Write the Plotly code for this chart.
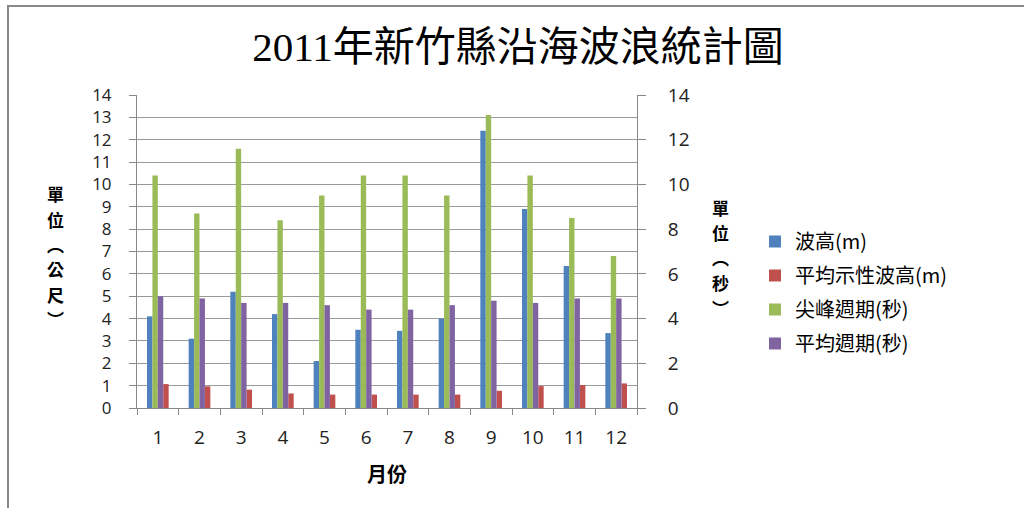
import plotly.graph_objects as go

months = ["1", "2", "3", "4", "5", "6", "7", "8", "9", "10", "11", "12"]
wave_height = [4.1, 3.1, 5.2, 4.2, 2.1, 3.5, 3.45, 4.0, 12.4, 8.9, 6.35, 3.35]
avg_sig_height = [1.07, 0.97, 0.82, 0.65, 0.6, 0.6, 0.6, 0.6, 0.77, 0.98, 1.03, 1.1]
peak_period = [10.4, 8.7, 11.6, 8.4, 9.5, 10.4, 10.4, 9.5, 13.1, 10.4, 8.5, 6.8]
avg_period = [5.0, 4.9, 4.7, 4.7, 4.6, 4.4, 4.4, 4.6, 4.8, 4.7, 4.9, 4.9]

names = ["波高(m)", "平均示性波高(m)", "尖峰週期(秒)", "平均週期(秒)"]
colors = ["#4F81BD", "#C0504D", "#9BBB59", "#8064A2"]

left_title_chars = ["單", "位", "︵", "公", "尺", "︶"]
right_title_chars = ["單", "位", "︵", "秒", "︶"]

W = 0.13
CJK = "Noto Sans CJK TC, Noto Sans CJK SC, sans-serif"
NUM = "Open Sans, Liberation Sans, sans-serif"

fig = go.Figure()
series = [
    (wave_height, "y", -2 * W),
    (avg_sig_height, "y", 1 * W),
    (peak_period, "y2", -1 * W),
    (avg_period, "y2", 0),
]
for i, ((vals, ax, off), name, col) in enumerate(zip(series, names, colors)):
    fig.add_trace(go.Bar(
        x=months, y=vals, name=name, yaxis=ax,
        legendgroup="g%d" % i,
        marker=dict(color=col, line=dict(width=0)),
        width=W, offset=off,
    ))


def px_to_paper_x(px):
    return (px - 137) / 500


def px_to_paper_y(py):
    return (408 - py) / 313


annotations = []
for ch, py in zip(left_title_chars, [193, 219, 244, 268, 294, 318]):
    annotations.append(dict(
        text="<b>%s</b>" % ch, xref="paper", yref="paper",
        x=px_to_paper_x(55), y=px_to_paper_y(py),
        xanchor="center", yanchor="middle", showarrow=False,
        font=dict(family=CJK, size=17, color="black"),
    ))
for ch, py in zip(right_title_chars, [207, 232, 257, 282, 307]):
    annotations.append(dict(
        text="<b>%s</b>" % ch, xref="paper", yref="paper",
        x=px_to_paper_x(720), y=px_to_paper_y(py),
        xanchor="center", yanchor="middle", showarrow=False,
        font=dict(family=CJK, size=17, color="black"),
    ))

fig.update_layout(
    width=1024, height=508,
    margin=dict(l=137, r=387, t=95, b=100),
    paper_bgcolor="white", plot_bgcolor="white",
    barmode="overlay",
    showlegend=True,
    title=dict(
        text="2011年新竹縣沿海波浪統計圖",
        x=518 / 1024, xanchor="center",
        y=1 - 47 / 508, yanchor="middle",
        font=dict(family="Liberation Serif, " + CJK, size=41, color="black"),
    ),
    xaxis=dict(
        type="category", categoryorder="array", categoryarray=months,
        tickson="boundaries", ticks="outside", ticklen=6, tickcolor="#888888",
        showline=True, linecolor="#888888", linewidth=1,
        showgrid=False,
        tickfont=dict(family=NUM, size=19, color="#222222"),
        ticklabelstandoff=12,
        title=dict(text="<b>月份</b>", font=dict(family=CJK, size=20, color="black"), standoff=19),
    ),
    yaxis=dict(
        range=[0, 14], dtick=1, tick0=0,
        showgrid=True, gridcolor="#9a9a9a", gridwidth=1,
        ticks="outside", ticklen=7, tickcolor="#888888",
        showline=True, linecolor="#888888", linewidth=1,
        zeroline=False,
        tickfont=dict(family=NUM, size=17, color="#222222"),
        ticklabelstandoff=14,
    ),
    yaxis2=dict(
        range=[0, 14], dtick=2, tick0=0,
        overlaying="y", side="right",
        showgrid=False,
        ticks="outside", ticklen=8, tickcolor="#888888",
        showline=True, linecolor="#888888", linewidth=1,
        zeroline=False,
        tickfont=dict(family=NUM, size=19, color="#222222"),
        ticklabelstandoff=18,
    ),
    legend=dict(
        x=px_to_paper_x(755), y=px_to_paper_y(222),
        xanchor="left", yanchor="top",
        font=dict(family=CJK, size=20, color="black"),
        bgcolor="rgba(0,0,0,0)",
        tracegroupgap=5,
        itemwidth=30,
    ),
    shapes=[dict(
        type="rect", xref="paper", yref="paper",
        x0=px_to_paper_x(8), x1=1.9,
        y0=-0.4, y1=px_to_paper_y(6),
        line=dict(color="#888888", width=2),
        layer="below",
    )],
    annotations=annotations,
)

fig.write_html("out.html")
